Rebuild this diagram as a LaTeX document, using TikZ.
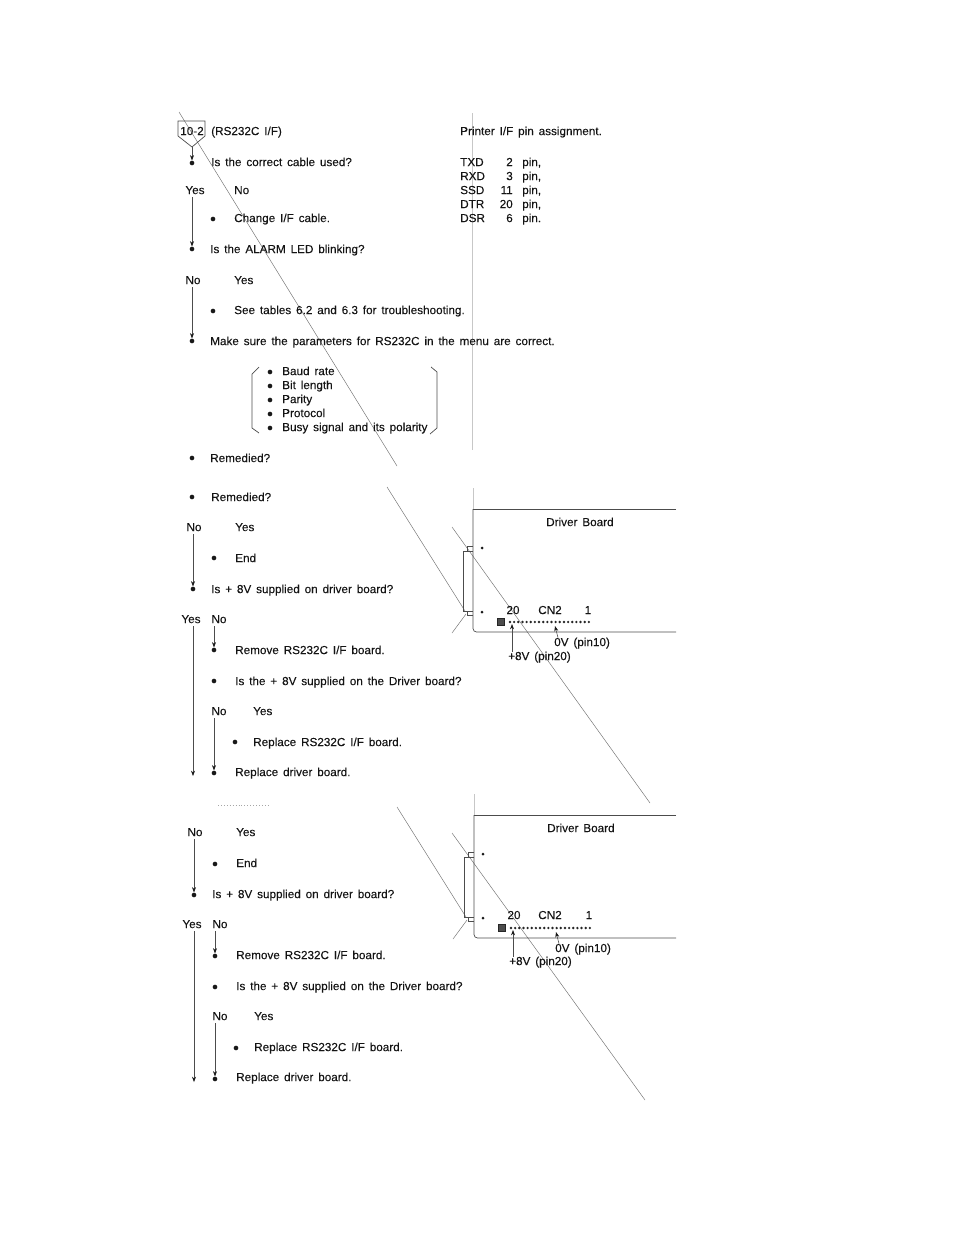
\documentclass[tikz,border=0pt]{standalone}
\usepackage{fontspec}
\setmainfont{Liberation Sans}[WordSpace=1.5, FakeBold=0.12]
\usetikzlibrary{arrows.meta}
\tikzset{
  txt/.style={anchor=west, inner sep=0pt, text height=7pt, text depth=0pt, text=black!92, font=\fontsize{10}{12}\selectfont},
  mid/.style={txt, anchor=center},
  dot/.style={circle, fill=black!90, inner sep=0pt, minimum size=0.14cm},
  pin/.style={circle, fill=black!90, inner sep=0pt, minimum size=0.09cm},
  flow/.style={draw=black!70, line width=0.5pt, -{Stealth[length=1.6mm,width=1.2mm,black!90]}},
  rule/.style={draw=black!55, line width=0.4pt},
  faint/.style={draw=black!22, line width=0.5pt},
  frame/.style={draw=black!70, line width=0.6pt},
  keybox/.style={draw=black!85, fill=black!70, inner sep=0pt, minimum size=0.2cm},
}
\begin{document}
\begin{tikzpicture}[x=0.03cm, y=-0.03cm]
\useasboundingbox (0,0) rectangle (954,1235);

\coordinate (scanA) at (179,112);
\coordinate (scanB) at (397,466);
\draw[rule] (scanA) -- (scanB);
\coordinate (foldA) at (472,113);
\coordinate (foldB) at (472,450);
\draw[faint] (foldA) -- (foldB);

\node[mid] (tag) at (192,131) {10-2};
\draw[frame] (178,121) -- (205,121) -- (205,136) -- (192,147) -- (178,136) -- cycle;
\coordinate (tagtip) at (192,147);
\node[txt] (title) at (211,131) {(RS232C I/F)};
\node[txt] (pinhead) at (460,131) {Printer I/F pin assignment.};

\node[dot] (d1) at (192,163) {};
\node[txt] (q1) at (211,162) {Is the correct cable used?};
\node[mid] (yes1) at (195,190) {Yes};
\node[txt] (no1) at (234,190) {No};
\node[dot] (d2) at (213,219) {};
\node[txt] (a1) at (234,218) {Change I/F cable.};
\node[dot] (d3) at (192,249) {};
\node[txt] (q2) at (210,249) {Is the ALARM LED blinking?};
\node[mid] (no2) at (193,280) {No};
\node[txt] (yes2) at (234,280) {Yes};
\node[dot] (d4) at (213,311) {};
\node[txt] (a2) at (234,310) {See tables 6.2 and 6.3 for troubleshooting.};
\node[dot] (d5) at (192,341) {};
\node[txt] (q3) at (210,341) {Make sure the parameters for RS232C in the menu are correct.};
\draw[flow] (tagtip) -- (d1);
\draw[flow] (d3 |- yes1.south) ++(0,3) -- (d3);
\draw[flow] (d5 |- no2.south) ++(0,3) -- (d5);

\node[txt] (sigtxd) at (460,162) {TXD};
\node[txt] (sigrxd) at (460,176) {RXD};
\node[txt] (sigssd) at (460,190) {SSD};
\node[txt] (sigdtr) at (460,204) {DTR};
\node[txt] (sigdsr) at (460,218) {DSR};
\node[txt, anchor=east] (numtxd) at (513,162) {2};
\node[txt, anchor=east] (numrxd) at (513,176) {3};
\node[txt, anchor=east] (numssd) at (513,190) {11};
\node[txt, anchor=east] (numdtr) at (513,204) {20};
\node[txt, anchor=east] (numdsr) at (513,218) {6};
\node[txt] (wrdtxd) at (522,162) {pin,};
\node[txt] (wrdrxd) at (522,176) {pin,};
\node[txt] (wrdssd) at (522,190) {pin,};
\node[txt] (wrddtr) at (522,204) {pin,};
\node[txt] (wrddsr) at (522,218) {pin.};

\node[dot] (p1) at (270,372) {};
\node[dot] (p2) at (270,386) {};
\node[dot] (p3) at (270,400) {};
\node[dot] (p4) at (270,414) {};
\node[dot] (p5) at (270,428) {};
\node[txt] (baud) at (282,371) {Baud rate};
\node[txt] (bits) at (282,385) {Bit length};
\node[txt] (parity) at (282,399) {Parity};
\node[txt] (proto) at (282,413) {Protocol};
\node[txt] (busy) at (282,427) {Busy signal and its polarity};
\draw[frame] (259,367) -- (252,374) -- (252,428) -- (259,433);
\draw[frame] (431,367) -- (437,372) -- (437,428) -- (430,434);

\node[dot] (d6) at (192,458) {};
\node[txt] (q4) at (210,458) {Remedied?};

\coordinate (scanC) at (387,487);
\coordinate (scanD) at (465,611);
\draw[rule] (scanC) -- (scanD);
\coordinate (scanE) at (452,527);
\coordinate (scanF) at (650,803);
\draw[rule] (scanE) -- (scanF);
\coordinate (scanG) at (452,633);
\coordinate (scanH) at (466,614);
\draw[rule] (scanG) -- (scanH);
\coordinate (foldC) at (473,488);
\coordinate (boardNW) at (473,509);
\coordinate (boardNE) at (676,509);
\coordinate (boardSE) at (676,632);
\coordinate (boardSW) at (473,632);
\draw[faint] (foldC) -- (boardNW);
\draw[frame] (boardNE) -- (boardNW);
\draw[frame, rounded corners=3pt] (boardNW) -- (boardSW) -- (boardSE);
\draw[frame] (473,551) -- (463,551) -- (463,611) -- (473,611);
\draw[frame] (467,551) -- (467,546) -- (473,546);
\draw[frame] (467,611) -- (467,615) -- (473,615);
\node[pin] (bolt1) at (482,548) {};
\node[pin] (bolt2) at (482,612) {};
\node[txt] (brdname) at (546,522) {Driver Board};
\node[mid] (cn20) at (513,610) {20};
\node[mid] (cnname) at (550,610) {CN2};
\node[mid] (cn1) at (588,610) {1};
\node[keybox] (cnkey) at (501,622) {};
\foreach \i in {0,...,19} \fill[black!85] (510+\i*4.15,622) circle[radius=0.04cm];
\coordinate (pin20) at (512,624);
\coordinate (pin10) at (555,626);
\node[txt] (lab10) at (554,642) {0V (pin10)};
\node[txt] (lab20) at (508,656) {+8V (pin20)};
\draw[flow] (lab20.north -| pin20) -- (pin20);
\draw[flow] (lab10.north -| 558,0) -- (pin10);

\node[dot] (e1) at (192,497) {};
\node[txt] (r1) at (211,497) {Remedied?};
\node[mid] (eno1) at (194,527) {No};
\node[txt] (eyes1) at (235,527) {Yes};
\node[dot] (e2) at (214,558) {};
\node[txt] (eend) at (235,558) {End};
\node[dot] (e3) at (193,589) {};
\node[txt] (r2) at (211,589) {Is + 8V supplied on driver board?};
\node[mid] (eyes2) at (191,619) {Yes};
\node[mid] (eno2) at (219,619) {No};
\node[dot] (e4) at (214,650) {};
\node[txt] (r3) at (235,650) {Remove RS232C I/F board.};
\node[dot] (e5) at (214,681) {};
\node[txt] (r4) at (235,681) {Is the + 8V supplied on the Driver board?};
\node[mid] (eno3) at (219,711) {No};
\node[txt] (eyes3) at (253,711) {Yes};
\node[dot] (e6) at (235,742) {};
\node[txt] (r5) at (253,742) {Replace RS232C I/F board.};
\node[dot] (e7) at (214,773) {};
\node[txt] (r6) at (235,772) {Replace driver board.};
\coordinate (efoot) at (193,776);
\draw[flow] (e3 |- eno1.south) ++(0,3) -- (e3);
\draw[flow] (efoot |- eyes2.south) ++(0,3) -- (efoot);
\draw[flow] (e4 |- eno2.south) ++(0,3) -- (e4);
\draw[flow] (e7 |- eno3.south) ++(0,3) -- (e7);
\coordinate (cutA) at (218,805);
\coordinate (cutB) at (270,805);
\draw[draw=black!35, line width=0.5pt, dotted] (cutA) -- (cutB);

\coordinate (scanI) at (397,807);
\coordinate (scanJ) at (466,917);
\draw[rule] (scanI) -- (scanJ);
\coordinate (scanK) at (452,833);
\coordinate (scanL) at (645,1100);
\draw[rule] (scanK) -- (scanL);
\coordinate (scanM) at (453,939);
\coordinate (scanN) at (467,920);
\draw[rule] (scanM) -- (scanN);
\coordinate (foldD) at (474,794);
\coordinate (bordNW) at (474,815);
\coordinate (bordNE) at (676,815);
\coordinate (bordSE) at (676,938);
\coordinate (bordSW) at (474,938);
\draw[faint] (foldD) -- (bordNW);
\draw[frame] (bordNE) -- (bordNW);
\draw[frame, rounded corners=3pt] (bordNW) -- (bordSW) -- (bordSE);
\draw[frame] (474,857) -- (464,857) -- (464,917) -- (474,917);
\draw[frame] (468,857) -- (468,852) -- (474,852);
\draw[frame] (468,917) -- (468,921) -- (474,921);
\node[pin] (bolt3) at (483,854) {};
\node[pin] (bolt4) at (483,918) {};
\node[txt] (brdnameb) at (547,828) {Driver Board};
\node[mid] (cn20b) at (514,915) {20};
\node[mid] (cnnameb) at (550,915) {CN2};
\node[mid] (cn1b) at (589,915) {1};
\node[keybox] (cnkeyb) at (502,928) {};
\foreach \i in {0,...,19} \fill[black!85] (511+\i*4.15,928) circle[radius=0.04cm];
\coordinate (pin20b) at (513,930);
\coordinate (pin10b) at (556,932);
\node[txt] (lab10b) at (555,948) {0V (pin10)};
\node[txt] (lab20b) at (509,961) {+8V (pin20)};
\draw[flow] (lab20b.north -| pin20b) -- (pin20b);
\draw[flow] (lab10b.north -| 559,0) -- (pin10b);

\node[mid] (fno1) at (195,832) {No};
\node[txt] (fyes1) at (236,832) {Yes};
\node[dot] (f2) at (215,864) {};
\node[txt] (fend) at (236,863) {End};
\node[dot] (f3) at (194,895) {};
\node[txt] (s2) at (212,894) {Is + 8V supplied on driver board?};
\node[mid] (fyes2) at (192,924) {Yes};
\node[mid] (fno2) at (220,924) {No};
\node[dot] (f4) at (215,956) {};
\node[txt] (s3) at (236,955) {Remove RS232C I/F board.};
\node[dot] (f5) at (215,987) {};
\node[txt] (s4) at (236,986) {Is the + 8V supplied on the Driver board?};
\node[mid] (fno3) at (220,1016) {No};
\node[txt] (fyes3) at (254,1016) {Yes};
\node[dot] (f6) at (236,1048) {};
\node[txt] (s5) at (254,1047) {Replace RS232C I/F board.};
\node[dot] (f7) at (215,1079) {};
\node[txt] (s6) at (236,1077) {Replace driver board.};
\coordinate (ffoot) at (194,1082);
\draw[flow] (f3 |- fno1.south) ++(0,3) -- (f3);
\draw[flow] (ffoot |- fyes2.south) ++(0,3) -- (ffoot);
\draw[flow] (f4 |- fno2.south) ++(0,3) -- (f4);
\draw[flow] (f7 |- fno3.south) ++(0,3) -- (f7);

\end{tikzpicture}
\end{document}
